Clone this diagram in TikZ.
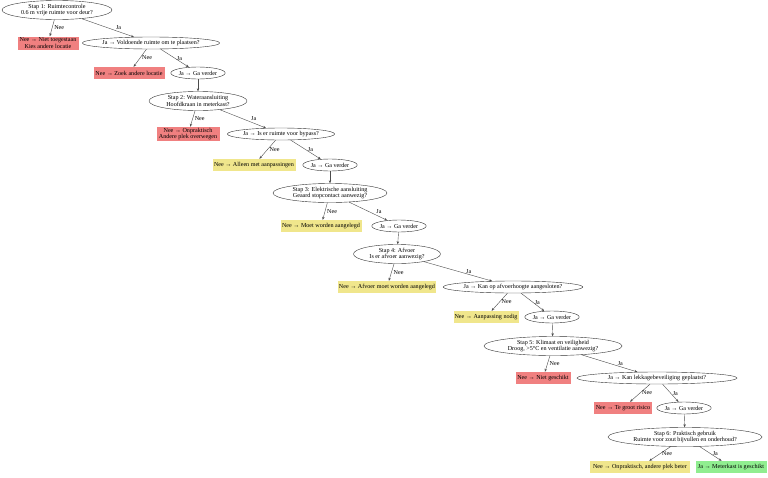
\documentclass[tikz,border=0pt]{standalone}
\usepackage{fontspec}
\setmainfont{Liberation Serif}
\usetikzlibrary{shapes.geometric,arrows.meta}
\definecolor{redbox}{HTML}{F08080}
\definecolor{yelbox}{HTML}{F0E68C}
\definecolor{grnbox}{HTML}{90EE90}
\begin{document}
\begin{tikzpicture}[x=1pt,y=-1pt,
  every node/.style={font=\fontsize{6.1}{6.6}\selectfont, align=center},
  el/.style={ellipse, draw=black!80, line width=0.4pt, inner sep=0pt, minimum height=12},
  el2/.style={el, minimum height=19},
  bx/.style={rectangle, inner sep=1pt, minimum height=12},
  rbox/.style={bx, fill=redbox},
  ybox/.style={bx, fill=yelbox},
  gbox/.style={bx, fill=grnbox},
  arr/.style={draw=black!70, line width=0.4pt, -{Stealth[length=3pt,width=2.4pt]}},
  lbl/.style={midway, anchor=west, inner sep=1pt, xshift=1pt}
]
\useasboundingbox (0,0) rectangle (768,477);
\node[el2, minimum width=110] (n1) at (57,10) {Stap 1: Ruimtecontrole\\0.6 m vrije ruimte voor deur?};
\node[rbox, minimum width=61, minimum height=13] (n2) at (48,43) {Nee → Niet toegestaan\\Kies andere locatie};
\node[el, minimum width=132] (n3) at (151,43) {Ja → Voldoende ruimte om te plaatsen?};
\node[rbox, minimum width=71] (n4) at (129,73) {Nee → Zoek andere locatie};
\node[el, minimum width=53] (n5) at (198,73) {Ja → Ga verder};
\node[el2, minimum width=98] (n6) at (198,101) {Stap 2: Wateraansluiting\\Hoofdkraan in meterkast?};
\node[rbox, minimum width=63, minimum height=13] (n7) at (188,134) {Nee → Onpraktisch\\Andere plek overwegen};
\node[el, minimum width=103] (n8) at (281,134) {Ja → Is er ruimte voor bypass?};
\node[ybox, minimum width=83] (n9) at (254,165) {Nee → Alleen met aanpassingen};
\node[el, minimum width=53] (n10) at (330,165) {Ja → Ga verder};
\node[el2, minimum width=114] (n11) at (330,193) {Stap 3: Elektrische aansluiting\\Geaard stopcontact aanwezig?};
\node[ybox, minimum width=81] (n12) at (321,226) {Nee → Moet worden aangelegd};
\node[el, minimum width=51] (n13) at (399,226) {Ja → Ga verder};
\node[el2, minimum width=87] (n14) at (397,254) {Stap 4: Afvoer\\Is er afvoer aanwezig?};
\node[ybox, minimum width=98] (n15) at (387,287) {Nee → Afvoer moet worden aangelegd};
\node[el, minimum width=127] (n16) at (513,287) {Ja → Kan op afvoerhoogte aangesloten?};
\node[ybox, minimum width=65] (n17) at (486,317) {Nee → Aanpassing nodig};
\node[el, minimum width=54] (n18) at (552,317) {Ja → Ga verder};
\node[el2, minimum width=138] (n19) at (553,346) {Stap 5: Klimaat en veiligheid\\Droog, >5°C en ventilatie aanwezig?};
\node[rbox, minimum width=55] (n20) at (543,378) {Nee → Niet geschikt};
\node[el, minimum width=160] (n21) at (657,378) {Ja → Kan lekkagebeveiliging geplaatst?};
\node[rbox, minimum width=58] (n22) at (623,408) {Nee → Te groot risico};
\node[el, minimum width=52] (n23) at (684,408) {Ja → Ga verder};
\node[el2, minimum width=154] (n24) at (685,437) {Stap 6: Praktisch gebruik\\Ruimte voor zout bijvullen en onderhoud?};
\node[ybox, minimum width=100] (n25) at (640,467) {Nee → Onpraktisch, andere plek beter};
\node[gbox, minimum width=71] (n26) at (731,467) {Ja → Meterkast is geschikt};

\draw[arr] (n1) -- node[lbl]{Nee} (n2);
\draw[arr] (n1) -- node[lbl, xshift=6pt]{Ja} (n3);
\draw[arr] (n3) -- node[lbl]{Nee} (n4);
\draw[arr] (n3) -- node[lbl]{Ja} (n5);
\draw[arr] (n5) -- (n6);
\draw[arr] (n6) -- node[lbl]{Nee} (n7);
\draw[arr] (n6) -- node[lbl, xshift=6pt]{Ja} (n8);
\draw[arr] (n8) -- node[lbl]{Nee} (n9);
\draw[arr] (n8) -- node[lbl]{Ja} (n10);
\draw[arr] (n10) -- (n11);
\draw[arr] (n11) -- node[lbl]{Nee} (n12);
\draw[arr] (n11) -- node[lbl, xshift=6pt]{Ja} (n13);
\draw[arr] (n13) -- (n14);
\draw[arr] (n14) -- node[lbl]{Nee} (n15);
\draw[arr] (n14) -- node[lbl, xshift=6pt]{Ja} (n16);
\draw[arr] (n16) -- node[lbl]{Nee} (n17);
\draw[arr] (n16) -- node[lbl]{Ja} (n18);
\draw[arr] (n18) -- (n19);
\draw[arr] (n19) -- node[lbl]{Nee} (n20);
\draw[arr] (n19) -- node[lbl, xshift=6pt]{Ja} (n21);
\draw[arr] (n21) -- node[lbl]{Nee} (n22);
\draw[arr] (n21) -- node[lbl]{Ja} (n23);
\draw[arr] (n23) -- (n24);
\draw[arr] (n24) -- node[lbl]{Nee} (n25);
\draw[arr] (n24) -- node[lbl]{Ja} (n26);
\end{tikzpicture}
\end{document}
